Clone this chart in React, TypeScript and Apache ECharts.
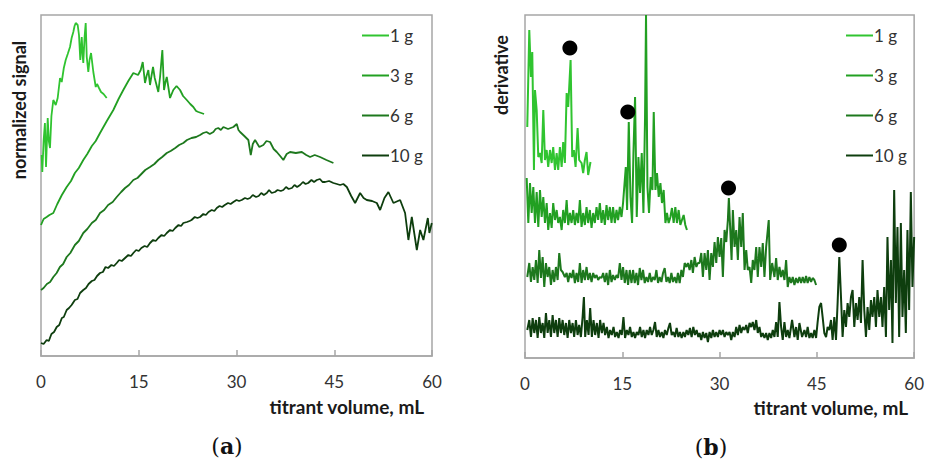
import React, { useEffect, useRef } from "react";
import * as echarts from "echarts";

// Panel (a): normalized signal vs titrant volume (mL); arbitrary units
const sigA1: number[][] = [[0.1,201],[0.2,184],[0.4,215],[0.6,233],[0.77,189],[1.03,238],[1.2,215],[1.38,208],[1.6,240],[1.89,256],[2.26,251],[2.56,258],[2.92,278],[3.18,274],[3.5,288],[3.79,296],[4.1,302],[4.45,309],[4.7,318],[4.96,324],[5.15,330],[5.33,333],[5.63,331],[5.83,321],[6.03,296],[6.25,319],[6.4,300],[6.49,293],[6.7,320],[6.86,333],[7.02,299],[7.26,284],[7.45,296],[7.68,303],[8.03,284],[8.4,269],[8.6,272],[8.9,268],[9.21,264],[9.6,262],[10.08,258]];
const sigA3: number[][] = [[0,131],[0.4,137],[0.87,139],[1.3,141],[1.89,143],[2.5,152],[3.2,161],[3.94,169],[4.6,175],[5.2,183],[5.8,188],[6.49,196],[7.1,202],[7.8,210],[8.4,215],[9.06,223],[10.1,235],[11.1,246],[11.9,257],[12.63,266],[13.4,275],[14.17,283],[14.89,281],[15.3,286],[15.61,294],[15.96,273],[16.2,280],[16.47,286],[16.73,271],[16.95,280],[17.19,289],[17.45,278],[17.65,273],[18.0,264],[18.27,279],[18.62,306],[18.88,266],[19.1,274],[19.3,279],[19.8,258],[20.3,266],[20.8,270],[21.34,266],[21.8,260],[22.37,256],[22.9,252],[23.38,249],[23.8,245],[24.15,244],[25.02,242]];
const sigA6: number[][] = [[0,66],[0.4,68],[0.9,72],[1.4,74],[1.89,79],[2.4,83],[2.9,89],[3.4,92],[3.94,99],[4.5,103],[5.2,111],[5.8,115],[6.49,123],[7.1,127],[7.8,133],[8.4,136],[9.06,143],[9.7,146],[10.3,151],[11.0,154],[11.62,159],[12.3,164],[12.9,168],[13.5,171],[14.17,176],[14.8,178],[15.4,182],[16.0,186],[16.73,189],[17.4,192],[18.0,196],[18.6,199],[19.3,203],[19.9,205],[20.6,208],[21.2,211],[21.84,213],[22.4,216],[23.1,218],[23.8,219],[24.41,221],[24.9,223],[25.4,224],[25.9,222],[26.45,224],[26.8,227],[27.2,228],[27.6,226],[27.98,229],[28.7,227],[29.52,229],[30.04,232],[30.3,226],[30.55,224],[31.2,220],[31.82,216],[32.19,201],[32.5,212],[32.85,216],[33.5,209],[34.12,211],[34.6,215],[35.15,214],[35.7,207],[36.18,204],[36.7,200],[37.19,196],[37.7,202],[38.22,204],[39.1,203],[40.02,204],[40.7,201],[41.29,199],[42.0,201],[42.82,199],[43.8,196],[44.87,193]];
const sigA10: number[][] = [[0,13],[0.4,12],[0.87,16],[1.2,15],[1.6,22],[2.0,24],[2.41,29],[2.8,31],[3.2,38],[3.5,39],[3.94,46],[4.3,48],[4.7,51],[5.2,56],[5.6,57],[6.0,63],[6.49,66],[6.9,68],[7.3,72],[7.8,75],[8.2,76],[8.6,80],[9.06,83],[9.5,84],[9.9,89],[10.3,88],[10.8,91],[11.2,90],[11.62,93],[12.0,96],[12.4,95],[12.9,98],[13.4,101],[13.8,100],[14.17,103],[14.6,106],[15.0,105],[15.4,108],[15.9,110],[16.3,109],[16.73,113],[17.2,116],[17.6,115],[18.0,118],[18.5,121],[18.9,120],[19.3,123],[19.8,126],[20.2,125],[20.6,128],[21.1,131],[21.5,130],[21.84,133],[22.4,134],[22.8,135],[23.1,136],[23.6,139],[24.0,138],[24.41,139],[24.9,142],[25.3,141],[25.7,144],[26.2,146],[26.6,145],[26.97,148],[27.4,150],[27.8,149],[28.2,151],[28.7,153],[29.1,152],[29.52,154],[30.0,156],[30.4,155],[30.8,156],[31.3,158],[31.7,157],[32.08,158],[32.5,161],[33.0,159],[33.4,160],[33.8,163],[34.2,161],[34.65,163],[35.0,166],[35.4,163],[35.9,164],[36.3,166],[36.8,165],[37.19,166],[37.6,169],[38.0,167],[38.5,168],[38.9,171],[39.3,169],[39.76,171],[40.2,174],[40.6,172],[41.0,173],[41.5,176],[41.9,174],[42.32,176],[42.8,177],[43.2,174],[43.6,174],[44.2,175],[44.87,173],[45.4,172],[45.9,171],[46.4,172],[46.93,169],[47.6,160],[48.2,153],[48.97,163],[49.5,158],[49.99,156],[50.8,155],[51.53,153],[52.04,146],[52.7,158],[53.31,164],[54.08,153],[55.11,156],[55.87,143],[56.38,116],[56.9,139],[57.67,106],[58.18,126],[58.68,116],[59.36,138],[59.6,123],[59.97,133]];

// Panel (b): derivative vs titrant volume (mL); arbitrary units
const derB1: number[][] = [[0.35,231],[0.66,328],[0.92,281],[1.12,306],[1.38,188],[1.54,268],[1.8,248],[2.05,201],[2.31,205],[2.57,195],[2.82,248],[3.08,198],[3.34,208],[3.58,191],[3.85,208],[4.11,195],[4.35,211],[4.62,188],[4.88,205],[5.12,188],[5.38,211],[5.65,191],[5.89,216],[6.15,195],[6.42,265],[6.66,251],[7.03,298],[7.28,201],[7.54,208],[7.8,191],[8.11,230],[8.35,198],[8.72,195],[8.97,185],[9.23,198],[9.49,206],[9.74,183],[10.1,196]];
const derB3: number[][] = [[0.26,180],[0.51,135],[0.77,175],[1.03,145],[1.28,171],[1.54,135],[1.8,166],[2.05,131],[2.31,168],[2.57,141],[2.82,161],[3.08,135],[3.34,155],[3.58,128],[3.85,145],[4.11,130],[4.35,155],[4.62,138],[4.88,148],[5.12,135],[5.38,141],[5.65,128],[5.89,148],[6.15,135],[6.42,158],[6.66,133],[6.92,145],[7.18,135],[7.43,148],[7.69,133],[7.95,145],[8.2,135],[8.46,158],[8.72,131],[8.97,145],[9.23,133],[9.49,151],[9.74,135],[10.0,148],[10.26,130],[10.51,145],[10.77,135],[11.03,151],[11.28,138],[11.54,155],[11.8,135],[12.05,148],[12.31,133],[12.57,153],[12.82,138],[13.08,151],[13.34,135],[13.58,151],[13.85,135],[14.11,148],[14.35,138],[14.62,151],[14.88,141],[15.12,155],[15.54,191],[15.74,148],[16.0,236],[16.26,161],[16.51,135],[16.72,205],[16.97,261],[17.23,141],[17.49,201],[17.74,165],[18.0,205],[18.26,145],[18.51,241],[18.66,343],[18.88,171],[19.12,145],[19.38,181],[19.65,168],[19.85,246],[20.11,168],[20.35,185],[20.62,161],[20.88,175],[21.12,155],[21.38,168],[21.65,135],[21.89,145],[22.15,135],[22.42,141],[22.66,150],[22.92,135],[23.18,151],[23.43,135],[23.69,148],[23.95,133],[24.2,138],[24.46,143],[24.72,133],[24.97,128]];
const derB6: number[][] = [[0.35,81],[0.66,95],[0.92,76],[1.18,91],[1.43,78],[1.69,98],[1.95,75],[2.2,108],[2.46,80],[2.72,101],[2.97,71],[3.23,95],[3.49,81],[3.74,91],[4.0,73],[4.26,88],[4.51,76],[4.77,91],[5.03,78],[5.28,105],[5.54,88],[5.8,86],[6.15,81],[6.42,85],[6.66,76],[6.92,85],[7.18,80],[7.43,88],[7.69,75],[7.95,85],[8.2,76],[8.46,95],[8.72,75],[8.97,88],[9.23,78],[9.49,91],[9.74,78],[10.0,85],[10.26,76],[10.51,85],[10.77,80],[11.03,83],[11.28,78],[11.54,81],[11.8,80],[12.05,85],[12.31,76],[12.57,85],[12.82,73],[13.08,88],[13.34,76],[13.58,83],[13.85,78],[14.11,83],[14.35,80],[14.62,95],[14.88,78],[15.12,91],[15.38,75],[15.65,88],[15.89,73],[16.15,88],[16.42,75],[16.66,88],[16.92,75],[17.18,85],[17.43,73],[17.69,90],[17.95,78],[18.2,88],[18.46,75],[18.72,81],[18.97,76],[19.23,85],[19.49,76],[19.74,81],[20.0,78],[20.26,88],[20.51,75],[20.77,81],[21.03,76],[21.28,85],[21.54,90],[21.8,76],[22.05,81],[22.31,75],[22.57,85],[22.82,76],[23.08,81],[23.34,75],[23.58,85],[23.85,75],[24.11,88],[24.35,81],[24.62,95],[24.88,91],[25.12,95],[25.38,88],[25.65,98],[25.89,85],[26.15,101],[26.42,91],[26.66,95],[26.92,95],[27.18,105],[27.43,81],[27.69,105],[27.95,88],[28.2,108],[28.46,78],[28.72,105],[28.97,91],[29.23,116],[29.49,95],[29.74,121],[30.0,101],[30.26,120],[30.51,81],[30.77,128],[31.03,116],[31.28,138],[31.43,160],[31.65,128],[31.85,98],[32.05,148],[32.31,111],[32.57,128],[32.82,98],[33.08,141],[33.34,111],[33.58,145],[33.85,88],[34.11,108],[34.35,88],[34.62,91],[34.88,75],[35.12,98],[35.38,88],[35.65,111],[35.89,81],[36.15,111],[36.42,91],[36.66,115],[36.92,81],[37.18,111],[37.58,138],[37.8,78],[38.11,95],[38.46,81],[38.72,100],[38.97,78],[39.23,91],[39.49,81],[39.74,88],[40.0,78],[40.26,98],[40.51,71],[40.77,81],[41.03,75],[41.28,81],[41.54,73],[41.8,80],[42.05,75],[42.31,81],[42.57,75],[42.82,81],[43.08,75],[43.34,82],[43.58,75],[43.85,81],[44.11,76],[44.35,80],[44.62,78],[44.88,73]];
const derB10: number[][] = [[0.35,28],[0.66,38],[0.92,21],[1.18,40],[1.43,25],[1.69,38],[1.95,20],[2.2,41],[2.46,25],[2.72,35],[2.97,20],[3.23,45],[3.49,25],[3.74,38],[4.0,21],[4.26,43],[4.51,25],[4.77,38],[5.03,21],[5.28,40],[5.54,25],[5.8,38],[6.05,23],[6.31,35],[6.57,20],[6.82,38],[7.08,25],[7.34,35],[7.58,21],[7.85,38],[8.11,23],[8.35,33],[8.62,21],[8.88,41],[9.08,61],[9.28,21],[9.54,38],[9.8,23],[10.05,50],[10.31,21],[10.57,38],[10.82,23],[11.08,35],[11.34,20],[11.58,38],[11.85,25],[12.11,35],[12.35,23],[12.62,31],[12.88,20],[13.12,28],[13.38,23],[13.65,31],[13.89,21],[14.15,26],[14.42,20],[14.66,28],[14.92,23],[15.18,41],[15.43,20],[15.69,28],[15.95,23],[16.2,31],[16.46,21],[16.72,26],[16.97,20],[17.23,26],[17.49,23],[17.74,31],[18.0,21],[18.26,28],[18.51,20],[18.77,28],[19.03,23],[19.28,31],[19.54,23],[19.8,28],[20.05,36],[20.31,21],[20.57,28],[20.82,21],[21.08,26],[21.34,20],[21.58,28],[21.85,23],[22.11,30],[22.35,35],[22.62,23],[22.88,26],[23.12,21],[23.38,30],[23.65,21],[23.89,26],[24.15,20],[24.42,26],[24.66,21],[24.92,28],[25.18,23],[25.43,30],[25.69,21],[25.95,31],[26.2,23],[26.46,28],[26.72,21],[26.92,25],[27.18,18],[27.43,26],[27.69,20],[27.95,25],[28.2,16],[28.46,26],[28.72,20],[28.97,28],[29.23,21],[29.49,26],[29.74,21],[30.0,28],[30.26,23],[30.51,28],[30.77,21],[31.03,26],[31.28,23],[31.54,26],[31.8,18],[32.05,26],[32.31,21],[32.57,31],[32.82,23],[33.08,33],[33.34,25],[33.58,31],[33.85,28],[34.11,33],[34.35,25],[34.62,35],[34.88,31],[35.12,36],[35.38,28],[35.65,38],[35.89,25],[36.15,31],[36.42,21],[36.66,25],[36.92,20],[37.18,25],[37.43,18],[37.69,25],[37.95,20],[38.2,28],[38.46,21],[38.72,36],[38.97,21],[39.23,56],[39.49,31],[39.74,18],[40.0,36],[40.26,21],[40.51,28],[40.77,20],[41.18,38],[41.54,21],[41.8,31],[42.05,18],[42.31,35],[42.72,21],[43.08,28],[43.34,21],[43.58,31],[43.85,20],[44.11,25],[44.35,20],[44.62,28],[44.88,20],[45.12,36],[45.38,51],[45.65,55],[45.89,41],[46.15,25],[46.42,21],[46.66,31],[46.92,28],[47.18,38],[47.43,18],[47.69,41],[47.95,18],[48.2,55],[48.46,101],[48.72,61],[48.97,21],[49.23,48],[49.49,31],[49.74,55],[50.0,41],[50.26,61],[50.51,68],[50.77,31],[51.03,55],[51.28,38],[51.54,61],[51.8,35],[52.05,98],[52.31,48],[52.57,21],[52.82,51],[53.08,28],[53.34,58],[53.58,41],[53.85,61],[54.11,31],[54.35,68],[54.62,41],[54.88,61],[55.12,31],[55.38,71],[55.65,21],[55.89,121],[56.15,48],[56.42,98],[56.66,15],[56.92,168],[57.18,55],[57.43,131],[57.69,21],[57.95,135],[58.2,41],[58.46,88],[58.72,25],[58.97,128],[59.23,48],[59.49,166],[59.74,71],[60.0,121]];
const endPoints: number[][] = [[6.92,310],[15.85,246],[31.38,170],[48.46,113]];

const seriesNames = ["1 g", "3 g", "6 g", "10 g"];
const seriesColors = ["#30c430", "#22a022", "#1d781d", "#0e3e0e"];
const xTicks = [0, 15, 30, 45, 60];

const FONT = "Lato, 'Open Sans', sans-serif";

export default function App() {
  const ref = useRef<HTMLDivElement>(null);
  useEffect(() => {
    if (!ref.current) return;
    const chart = echarts.init(ref.current, undefined, { renderer: "svg" });
    const panelA = [sigA1, sigA3, sigA6, sigA10];
    const panelB = [derB1, derB3, derB6, derB10];
    const mkX = (gi: number) => ({
      type: "value",
      gridIndex: gi,
      min: xTicks[0],
      max: xTicks[xTicks.length - 1],
      interval: 15,
      axisLine: { show: true, lineStyle: { color: "#a6a6a6", width: 1.5 } },
      axisTick: { show: true, inside: true, length: 6, lineStyle: { color: "#a6a6a6", width: 1.5 } },
      axisLabel: { fontSize: 17, color: "#333", fontFamily: FONT, margin: 17 },
      splitLine: { show: false },
    });
    const mkY = (gi: number, max: number) => ({
      type: "value",
      gridIndex: gi,
      min: 0,
      max,
      show: false,
      splitLine: { show: false },
    });
    const lineSeries: any[] = [];
    panelA.forEach((d, i) =>
      lineSeries.push({
        type: "line", name: seriesNames[i], xAxisIndex: 0, yAxisIndex: 0, data: d,
        showSymbol: false, symbol: "none", color: seriesColors[i],
        lineStyle: { width: 1.8, color: seriesColors[i] }, clip: true,
      })
    );
    panelB.forEach((d, i) =>
      lineSeries.push({
        type: "line", name: seriesNames[i], xAxisIndex: 1, yAxisIndex: 1, data: d,
        showSymbol: false, symbol: "none", color: seriesColors[i],
        lineStyle: { width: 2, color: seriesColors[i] }, clip: true,
      })
    );
    lineSeries.push({
      type: "scatter", name: "end point", xAxisIndex: 1, yAxisIndex: 1, data: endPoints,
      symbolSize: 15, itemStyle: { color: "#000", opacity: 1 }, z: 5,
    });
    const mkLegend = (left: number) => ({
      data: seriesNames,
      orient: "vertical",
      left,
      top: 25,
      padding: 0,
      itemGap: 19,
      itemWidth: 27,
      itemHeight: 2,
      icon: "rect",
      textStyle: { fontSize: 17, color: "#333", fontFamily: FONT, lineHeight: 21, padding: [0, 0, 0, -4] },
      selectedMode: false,
    });
    const titleStyle = { fontSize: 19, fontWeight: "bold", fill: "#1a1a1a", fontFamily: FONT };
    chart.setOption({
      animation: false,
      backgroundColor: "#fff",
      grid: [
        { left: 41, top: 15, width: 391, height: 341, show: true, borderColor: "#a6a6a6", borderWidth: 1.5, backgroundColor: "transparent" },
        { left: 525, top: 15, width: 390, height: 343, show: true, borderColor: "#a6a6a6", borderWidth: 1.5, backgroundColor: "transparent" },
      ],
      xAxis: [mkX(0), mkX(1)],
      yAxis: [mkY(0, 341), mkY(1, 343)],
      legend: [mkLegend(362), mkLegend(846)],
      series: lineSeries,
      graphic: [
        { type: "text", x: 424, y: 406, style: { ...titleStyle, text: "titrant volume, mL", textAlign: "right", textVerticalAlign: "middle" } },
        { type: "text", x: 908, y: 407, style: { ...titleStyle, text: "titrant volume, mL", textAlign: "right", textVerticalAlign: "middle" } },
        { type: "text", x: 19, y: 110, rotation: Math.PI / 2, style: { ...titleStyle, fontSize: 18, text: "normalized signal", textAlign: "center", textVerticalAlign: "middle" } },
        { type: "text", x: 501, y: 75, rotation: Math.PI / 2, style: { ...titleStyle, fontSize: 18, text: "derivative", textAlign: "center", textVerticalAlign: "middle" } },
        {
          type: "text", x: 227, y: 446,
          style: {
            text: "({b|a})", textAlign: "center", textVerticalAlign: "middle",
            fontSize: 22, fontFamily: "'DejaVu Serif', serif", fill: "#111",
            rich: { b: { fontSize: 22, fontWeight: "bold", fontFamily: "'DejaVu Serif', serif", fill: "#111" } },
          },
        },
        {
          type: "text", x: 711, y: 447,
          style: {
            text: "({b|b})", textAlign: "center", textVerticalAlign: "middle",
            fontSize: 22, fontFamily: "'DejaVu Serif', serif", fill: "#111",
            rich: { b: { fontSize: 22, fontWeight: "bold", fontFamily: "'DejaVu Serif', serif", fill: "#111" } },
          },
        },
      ],
    });
    return () => chart.dispose();
  }, []);
  return <div ref={ref} style={{ position: "fixed", left: 0, top: 0, width: 927, height: 460, background: "#fff" }} />;
}
